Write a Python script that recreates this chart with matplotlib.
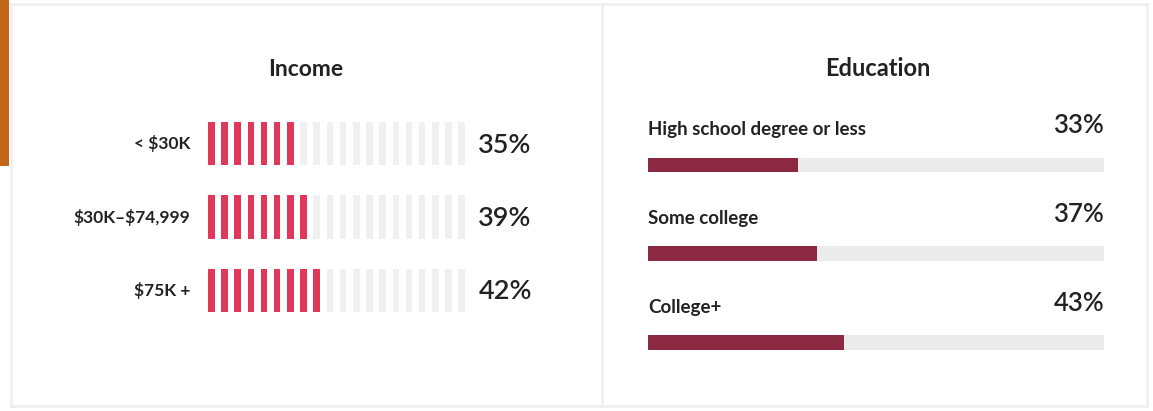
import numpy as np
import matplotlib.pyplot as plt
from matplotlib.patches import Rectangle

plt.rcParams['font.family'] = ['Lato', 'DejaVu Sans']
plt.rcParams['text.parse_math'] = False

# Data
income_labels = ["< $30K", "$30K\u2013$74,999", "$75K +"]
income_values = [35, 39, 42]
edu_labels = ["High school degree or less", "Some college", "College+"]
edu_values = [33, 37, 43]
n_stripes = 20  # each stripe = 5%

W, H = 1153, 411
fig = plt.figure(figsize=(W / 100, H / 100), dpi=100)
fig.patch.set_facecolor("white")

def px_axes(x0, y0, x1, y1):
    # axes placed by pixel box (top-left origin)
    return fig.add_axes([x0 / W, 1 - y1 / H, (x1 - x0) / W, (y1 - y0) / H])

# card frame
frame = dict(transform=fig.transFigure, color="#efefef", lw=1.8)
fig.add_artist(plt.Line2D([11 / W, 1147 / W], [1 - 4 / H, 1 - 4 / H], **frame))
fig.add_artist(plt.Line2D([11 / W, 1147 / W], [1 - 406 / H, 1 - 406 / H], **frame))
fig.add_artist(plt.Line2D([11 / W, 11 / W], [1 - 4 / H, 1 - 406 / H], **frame))
fig.add_artist(plt.Line2D([602 / W, 602 / W], [1 - 4 / H, 1 - 406 / H], **frame))
fig.add_artist(plt.Line2D([1147 / W, 1147 / W], [1 - 4 / H, 1 - 406 / H], **frame))
fig.add_artist(Rectangle((0, 1 - 166 / H), 9 / W, 166 / H, transform=fig.transFigure,
                         color="#c2661c", lw=0))

text_col = "#222222"

# Income: striped bars
ax1 = px_axes(208, 122, 465, 312)
sw = 0.5
bh = 43 / 73
for r, v in enumerate(income_values):
    filled = int(np.ceil(v / 100 * n_stripes))
    for i in range(n_stripes):
        col = "#e0385b" if i < filled else "#f0f0f0"
        ax1.bar(i, bh, width=sw, bottom=r - bh / 2, color=col, lw=0)
    ax1.text(-0.07, r, income_labels[r], transform=ax1.get_yaxis_transform(),
             ha="right", va="center", fontsize=12.5, fontweight="bold", color=text_col)
    ax1.text(1.052, r + 0.02, f"{v}%", transform=ax1.get_yaxis_transform(),
             ha="left", va="center", fontsize=19.5, fontweight="semibold", color=text_col)
ax1.set_xlim(-0.25, n_stripes - 0.75)
ax1.set_ylim(2.295, -0.295)
ax1.axis("off")
fig.text(306 / W, 1 - 70 / H, "Income", ha="center", va="center",
         fontsize=16.5, fontweight="bold", color=text_col)

# Education: horizontal bars
ax2 = px_axes(648, 150, 1104, 357)
pitch = 88.75
eh = 14.7 / pitch
y = np.arange(len(edu_values))
ax2.barh(y, [100] * len(y), height=eh, color="#ebebeb", lw=0)
ax2.barh(y, edu_values, height=eh, color="#8c2942", lw=0)
for r, (lab, v) in enumerate(zip(edu_labels, edu_values)):
    ax2.text(0, r - 0.40, lab, ha="left", va="center", fontsize=13.5,
             fontweight="bold", color=text_col)
    ax2.text(100, r - 0.44, f"{v}%", ha="right", va="center", fontsize=18.5,
             fontweight="semibold", color=text_col)
ax2.set_xlim(0, 100)
ax2.set_ylim(2 + 14.5 / pitch, -15 / pitch)
ax2.axis("off")
fig.text(878 / W, 1 - 69 / H, "Education", ha="center", va="center",
         fontsize=17, fontweight="bold", color=text_col)

fig.savefig("out.png", dpi=100, facecolor="white")
